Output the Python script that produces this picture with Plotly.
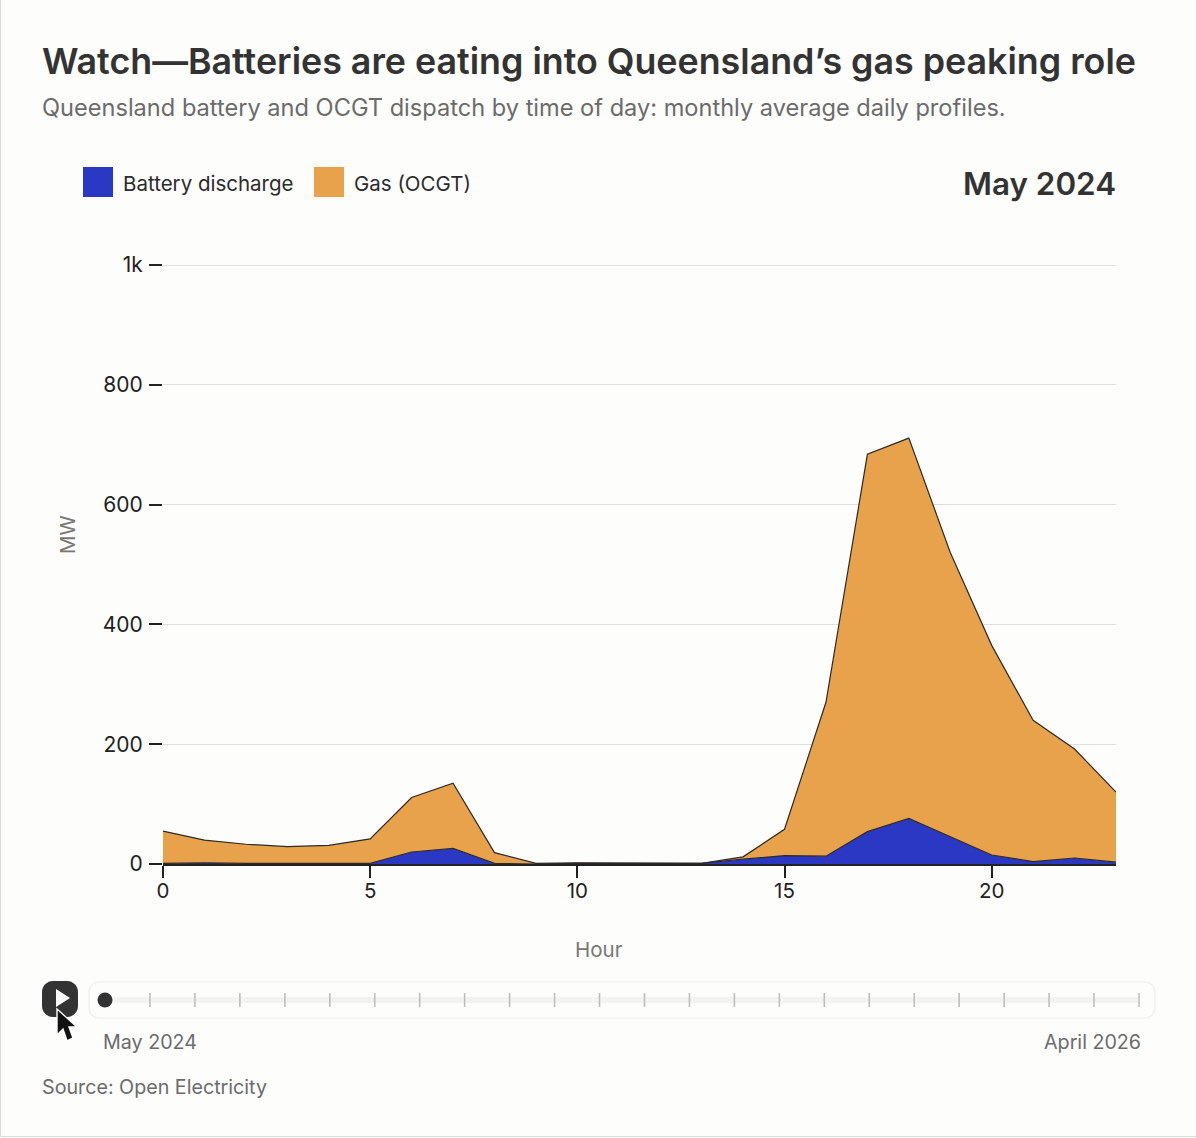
import plotly.graph_objects as go

WIDTH, HEIGHT = 1196, 1138
FONT = "Inter"

# Average daily profile for May 2024, Queensland
hours = list(range(24))
battery_mw = [1, 2, 1, 1, 1, 1, 20, 26, 1, 0, 1, 1, 0, 1, 8, 14, 13, 54, 76, 45, 15, 4, 10, 3]
gas_mw = [54, 38, 32, 28, 30, 41, 91, 109, 18, 1, 1, 0.5, 0.5, 0, 4, 44, 257, 630, 635, 475, 350, 236, 182, 117]

# Month steps shown on the time slider
months = ["May 2024", "Jun 2024", "Jul 2024", "Aug 2024", "Sep 2024", "Oct 2024",
          "Nov 2024", "Dec 2024", "Jan 2025", "Feb 2025", "Mar 2025", "Apr 2025",
          "May 2025", "Jun 2025", "Jul 2025", "Aug 2025", "Sep 2025", "Oct 2025",
          "Nov 2025", "Dec 2025", "Jan 2026", "Feb 2026", "Mar 2026", "April 2026"]
current_month = 0

y_ticks = [0, 200, 400, 600, 800, 1000]
y_tick_labels = ["0", "200", "400", "600", "800", "1k"]
x_ticks = [0, 5, 10, 15, 20]

BLUE = "#2B38C4"
ORANGE = "#E9A24C"
OUTLINE = "#2c2a28"
BG = "#FDFDFB"

# A hair above the top tick so its gridline is kept at the axis end
Y_MAX = 1002
PX_PER_MW = 0.599


def px(x):
    return x / WIDTH


def py(y):
    return 1 - y / HEIGHT


def text(x, y, s, size, color, anchor="left", weight=400, angle=0):
    return dict(x=px(x), y=py(y), xref="paper", yref="paper", text=s, showarrow=False,
                xanchor=anchor, yanchor="middle", align=anchor, textangle=angle,
                font=dict(family=FONT, size=size, color=color, weight=weight))


def rect(x0, y0, x1, y1, fill, line="rgba(0,0,0,0)", width=0):
    return dict(type="rect", xref="paper", yref="paper", x0=px(x0), x1=px(x1),
                y0=py(y0), y1=py(y1), fillcolor=fill, line=dict(color=line, width=width))


def rounded(x0, y0, x1, y1, r, fill, line="rgba(0,0,0,0)", width=0):
    k = r * 0.45
    pts = [
        f"M{px(x0 + r)},{py(y0)}", f"L{px(x1 - r)},{py(y0)}",
        f"C{px(x1 - k)},{py(y0)} {px(x1)},{py(y0 + k)} {px(x1)},{py(y0 + r)}",
        f"L{px(x1)},{py(y1 - r)}",
        f"C{px(x1)},{py(y1 - k)} {px(x1 - k)},{py(y1)} {px(x1 - r)},{py(y1)}",
        f"L{px(x0 + r)},{py(y1)}",
        f"C{px(x0 + k)},{py(y1)} {px(x0)},{py(y1 - k)} {px(x0)},{py(y1 - r)}",
        f"L{px(x0)},{py(y0 + r)}",
        f"C{px(x0)},{py(y0 + k)} {px(x0 + k)},{py(y0)} {px(x0 + r)},{py(y0)}Z",
    ]
    return dict(type="path", xref="paper", yref="paper", path="".join(pts),
                fillcolor=fill, line=dict(color=line, width=width))


def polygon(points, fill, line="rgba(0,0,0,0)", width=0):
    path = "M" + "L".join(f"{px(x)},{py(y)}" for x, y in points) + "Z"
    return dict(type="path", xref="paper", yref="paper", path=path,
                fillcolor=fill, line=dict(color=line, width=width))


fig = go.Figure()

# Stacked areas: battery at the base, gas on top
fig.add_trace(go.Scatter(x=hours, y=battery_mw, name="Battery discharge", stackgroup="one",
                         mode="lines", line=dict(color=OUTLINE, width=1.2), fillcolor=BLUE))
fig.add_trace(go.Scatter(x=hours, y=gas_mw, name="Gas (OCGT)", stackgroup="one",
                         mode="lines", line=dict(color=OUTLINE, width=1.2), fillcolor=ORANGE))

# Slider track, month ticks and position marker on their own axes
month_idx = list(range(len(months)))
fig.add_trace(go.Scatter(x=month_idx, y=[0] * len(months), xaxis="x2", yaxis="y2", mode="lines",
                         line=dict(color="#F3F3F1", width=6), hoverinfo="skip", cliponaxis=False))
fig.add_trace(go.Scatter(x=month_idx[1:], y=[0] * (len(months) - 1), xaxis="x2", yaxis="y2", mode="markers",
                         marker=dict(symbol="line-ns", size=10, line=dict(color="#BEBEBC", width=1.6)),
                         text=months[1:], hoverinfo="text", cliponaxis=False))
fig.add_trace(go.Scatter(x=[current_month], y=[0], xaxis="x2", yaxis="y2", mode="markers",
                         marker=dict(color="#333333", size=15), text=[months[current_month]],
                         hoverinfo="text", cliponaxis=False))

shapes = [
    rect(0.5, -2, WIDTH + 2, HEIGHT - 1.5, BG, "#DCDCDA", 1),
    rect(83, 167, 113, 197, BLUE),
    rect(314, 167, 344, 197, ORANGE),
    rounded(89, 982, 1155, 1018, 10, "rgba(0,0,0,0)", "#EEEEEC", 1.2),
    rounded(42, 981, 78, 1017, 11, "#333333"),
    polygon([(56, 989), (70, 998), (56, 1007)], "#FFFFFF"),
    # Mouse pointer resting over the play button
    polygon([(57, 1009), (57, 1035), (63, 1029), (67, 1041), (73, 1038), (69, 1027), (77, 1027)],
            "#111111", "#FFFFFF", 1.4),
]
for s in shapes:
    s["layer"] = "below"
for s in shapes[-3:]:
    s["layer"] = "above"

annotations = [
    text(40, 61, "Watch—Batteries are eating into Queensland’s gas peaking role", 35.8, "#333333", weight=600),
    text(40, 108, "Queensland battery and OCGT dispatch by time of day: monthly average daily profiles.", 23.6, "#6b6b6b"),
    text(121, 183, "Battery discharge", 20.5, "#2b2b2b"),
    text(352, 183, "Gas (OCGT)", 20.5, "#2b2b2b"),
    text(1118, 184, months[current_month], 31.4, "#333333", anchor="right", weight=600),
    text(101, 1042, months[0], 19.7, "#6b6b6b"),
    text(1143, 1042, months[-1], 19.7, "#6b6b6b", anchor="right"),
    text(40, 1087, "Source: Open Electricity", 19.7, "#6b6b6b"),
    text(599, 949, "Hour", 20.5, "#777777", anchor="center"),
    text(67, 535, "MW", 20.5, "#777777", anchor="center", angle=-90),
]

fig.update_layout(
    width=WIDTH, height=HEIGHT, autosize=False,
    margin=dict(l=0, r=0, t=0, b=0),
    paper_bgcolor=BG, plot_bgcolor="rgba(0,0,0,0)",
    showlegend=False, shapes=shapes, annotations=annotations,
    font=dict(family=FONT),
    xaxis=dict(domain=[px(163), px(1116)], range=[0, 23], tickvals=x_ticks,
               ticks="outside", ticklen=12, tickwidth=1.5, tickcolor="#222222",
               showgrid=False, zeroline=False, showline=True, linecolor="#222222", linewidth=2,
               automargin=False, ticklabelstandoff=-5,
               tickfont=dict(size=20.5, color="#222222", family=FONT)),
    yaxis=dict(domain=[py(864), py(864 - PX_PER_MW * Y_MAX)], range=[0, Y_MAX],
               tickvals=y_ticks, ticktext=y_tick_labels,
               ticks="outside", ticklen=13, tickwidth=1.5, tickcolor="#222222",
               showgrid=True, gridcolor="#DEDEDC", gridwidth=1,
               zeroline=False, showline=False, automargin=False, ticklabelstandoff=2,
               tickfont=dict(size=21, color="#222222", family=FONT)),
    xaxis2=dict(domain=[px(105), px(1139)], range=[0, len(months) - 1], anchor="y2", visible=False),
    yaxis2=dict(domain=[py(1018), py(982)], range=[-1, 1], anchor="x2", visible=False),
)

fig.write_html("out.html")
